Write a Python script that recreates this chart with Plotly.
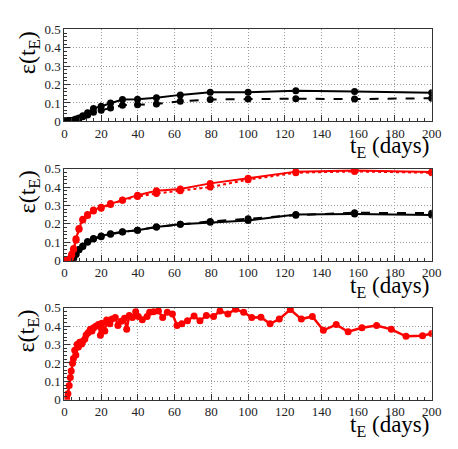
import plotly.graph_objects as go
from plotly.subplots import make_subplots

# log-spaced tE grid used by the top and middle panels (days)
TE_GRID = [1, 1.26, 1.58, 2, 2.51, 3.16, 3.98, 5.01, 6.31, 7.94, 10, 12.6,
           15.8, 20, 25.1, 31.6, 39.8, 50.1, 63.1, 79.4, 100, 126, 158, 200]

# top panel
top_solid = [0.001, 0.002, 0.003, 0.003, 0.004, 0.004, 0.005, 0.007, 0.012, 0.018,
             0.03, 0.047, 0.07, 0.082, 0.10, 0.119, 0.12, 0.128, 0.144, 0.158,
             0.158, 0.166, 0.163, 0.155]
top_dashed = [0.001, 0.001, 0.002, 0.002, 0.003, 0.003, 0.004, 0.006, 0.01, 0.015,
              0.025, 0.035, 0.049, 0.06, 0.072, 0.088, 0.09, 0.095, 0.109, 0.119,
              0.121, 0.123, 0.121, 0.126]

# middle panel
mid_red_solid = [0.0, 0.0, 0.001, 0.002, 0.004, 0.012, 0.035, 0.065, 0.118, 0.175,
                 0.225, 0.25, 0.275, 0.29, 0.31, 0.33, 0.355, 0.38, 0.39, 0.42,
                 0.448, 0.484, 0.49, 0.482]
mid_red_dotted = [0.0, 0.0, 0.001, 0.002, 0.004, 0.01, 0.03, 0.06, 0.11, 0.17,
                  0.22, 0.245, 0.27, 0.285, 0.305, 0.328, 0.348, 0.365, 0.38, 0.40,
                  0.44, 0.478, 0.485, 0.478]
mid_black_solid = [0.0, 0.0, 0.0, 0.0, 0.0, 0.0, 0.0, 0.009, 0.035, 0.06,
                   0.079, 0.104, 0.12, 0.134, 0.146, 0.157, 0.165, 0.183, 0.197, 0.208,
                   0.218, 0.25, 0.253, 0.248]
mid_black_dashed = [0.0, 0.0, 0.0, 0.0, 0.0, 0.0, 0.0, 0.01, 0.033, 0.058,
                    0.077, 0.1, 0.117, 0.13, 0.143, 0.155, 0.165, 0.183, 0.197, 0.213,
                    0.227, 0.247, 0.26, 0.258]

# bottom panel
bot_te = [1.2, 1.9, 2.6, 3.2, 3.7, 4.4, 4.9, 5.6, 6.2, 6.9, 7.6, 8.3, 9.4, 10, 11.1,
          11.8, 12.9, 14.1, 15, 15.9, 17.1, 18.5, 19.6, 20.3, 22, 23, 24.7, 25.9,
          27.7, 29.1, 30.9, 32.7, 33.9, 35.3, 37, 38.8, 40.2, 42.4, 45, 46.4, 48.5,
          51.2, 53.5, 56, 58.8, 61.3, 63.9, 67, 70.6, 73.8, 77.3, 81.2, 84.7, 89,
          93.2, 97.6, 102, 107, 112, 117, 123, 129, 135, 141, 148, 154.5, 162, 170,
          178, 186, 195, 200]
bot_eff = [0.007, 0.033, 0.077, 0.121, 0.156, 0.199, 0.225, 0.269, 0.243, 0.301,
           0.287, 0.313, 0.304, 0.318, 0.33, 0.353, 0.365, 0.383, 0.374, 0.392,
           0.40, 0.409, 0.351, 0.416, 0.374, 0.434, 0.413, 0.439, 0.448, 0.404,
           0.427, 0.444, 0.383, 0.458, 0.448, 0.479, 0.453, 0.435, 0.453, 0.476,
           0.479, 0.483, 0.448, 0.476, 0.467, 0.404, 0.414, 0.43, 0.456, 0.43,
           0.458, 0.453, 0.483, 0.467, 0.493, 0.476, 0.448, 0.449, 0.413, 0.439,
           0.491, 0.439, 0.453, 0.378, 0.409, 0.37, 0.392, 0.404, 0.383, 0.345,
           0.348, 0.36]

Y_TICKS = [0, 0.1, 0.2, 0.3, 0.4, 0.5]
Y_TICK_TEXT = ["0", "0.1", "0.2", "0.3", "0.4", "0.5"]

RED = "#ff0000"
BLACK = "#000000"
SERIF = "Liberation Serif"

fig = make_subplots(rows=3, cols=1)


def add_series(x, y, row, color, dash, width=2):
    fig.add_trace(
        go.Scatter(
            x=x, y=y, mode="lines+markers",
            line=dict(color=color, width=width, dash=dash),
            marker=dict(color=color, size=7),
            showlegend=False,
        ),
        row=row, col=1,
    )


add_series(TE_GRID, top_dashed, 1, BLACK, "dash")
add_series(TE_GRID, top_solid, 1, BLACK, "solid")
add_series(TE_GRID, mid_black_dashed, 2, BLACK, "dash")
add_series(TE_GRID, mid_black_solid, 2, BLACK, "solid")
add_series(TE_GRID, mid_red_dotted, 2, RED, "dot")
add_series(TE_GRID, mid_red_solid, 2, RED, "solid")
add_series(bot_te, bot_eff, 3, RED, "solid", width=2.5)

# panel positions (paper coords, margins are zero)
x_dom = [55 / 458, 433 / 458]
y_doms = [(15, 110), (159, 254), (303, 398)]

axis_common = dict(
    showline=True, linecolor="#333333", linewidth=1, mirror=True,
    showgrid=True, gridcolor="#999999", griddash="1px,2px", gridwidth=1,
    zeroline=False, ticks="inside", ticklen=6, tickcolor="#333333",
    tickfont=dict(family=SERIF, size=13, color="#222222"),
)

for i, (top, bottom) in enumerate(y_doms, start=1):
    suffix = "" if i == 1 else str(i)
    fig.layout["xaxis" + suffix].update(
        domain=x_dom, range=[0, 200], dtick=20, tick0=0,
        minor=dict(ticks="inside", ticklen=3, dtick=4, tickcolor="#333333"),
        **axis_common,
    )
    fig.layout["yaxis" + suffix].update(
        domain=[1 - bottom / 449, 1 - top / 449], range=[0, 0.5],
        tickvals=Y_TICKS, ticktext=Y_TICK_TEXT,
        minor=dict(ticks="inside", ticklen=3, dtick=0.02, tickcolor="#333333"),
        **axis_common,
    )
    # y title, top-aligned ROOT style
    fig.add_annotation(
        text="ε(t<sub>E</sub>)", xref="paper", yref="paper",
        x=18 / 458, y=1 - (top + 24) / 449, xanchor="center", yanchor="middle",
        textangle=-90, showarrow=False,
        font=dict(family=SERIF, size=24, color="#000000"),
    )
    # x title, right-aligned under the axis
    fig.add_annotation(
        text="t<sub>E</sub> (days)", xref="paper", yref="paper",
        x=432 / 458, y=1 - (bottom + 27) / 449, xanchor="right", yanchor="middle",
        showarrow=False,
        font=dict(family=SERIF, size=23, color="#000000"),
    )

fig.update_layout(
    width=458, height=449,
    margin=dict(l=0, r=0, t=0, b=0),
    paper_bgcolor="white", plot_bgcolor="white",
    font=dict(family=SERIF),
)

fig.write_html("out.html")
